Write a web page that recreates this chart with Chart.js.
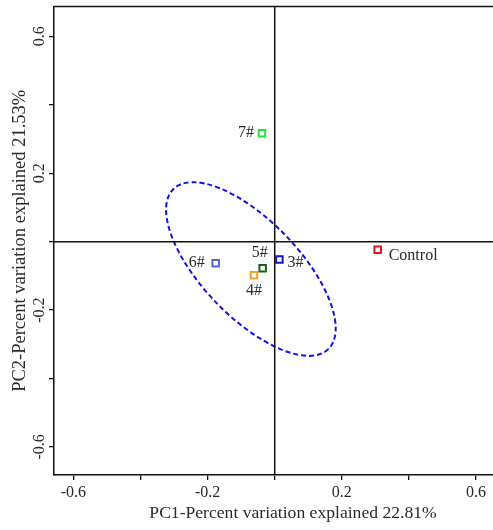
<!DOCTYPE html>
<html><head><meta charset="utf-8">
<script src="https://cdn.jsdelivr.net/npm/chart.js@4.4.1/dist/chart.umd.min.js"></script>
<style>
html,body{margin:0;padding:0;background:#fff;overflow:hidden;}
#wrap{width:493px;height:530px;overflow:hidden;position:relative;}
canvas{display:block;}
</style></head><body>
<div id="wrap"><canvas id="c" width="540" height="530"></canvas></div>
<script>
// ---- data ----
const sampleNames = ['Control', '3#', '4#', '5#', '6#', '7#'];
const pc1Values = [0.307, 0.014, -0.062, -0.036, -0.176, -0.038];
const pc2Values = [-0.024, -0.052, -0.098, -0.078, -0.063, 0.317];
const xTickValues = [-0.6, -0.4, -0.2, 0, 0.2, 0.4, 0.6];
const xTickLabels = ['-0.6', '', '-0.2', '', '0.2', '', '0.6'];
const yTickValues = [-0.6, -0.4, -0.2, 0, 0.2, 0.4, 0.6];
const yTickLabels = ['-0.6', '', '-0.2', '', '0.2', '', '0.6'];
const ellipseCenter = [-0.071, -0.080];
const ellipseSemiAxes = [0.332, 0.144];
const ellipseAngleDeg = -46;
const xTitle = 'PC1-Percent variation explained 22.81%';
const yTitle = 'PC2-Percent variation explained 21.53%';

// ---- styles ----
const pointColors = ['#dd1a1a', '#1414c8', '#f0a028', '#146414', '#4a6cd0', '#33dd33'];
const labelPlacement = [
  {dx: 11, dy: 6, align: 'left'},
  {dx: 8, dy: 3, align: 'left'},
  {dx: 0, dy: 16, align: 'center'},
  {dx: -3, dy: -16, align: 'center'},
  {dx: -11, dy: 0, align: 'right'},
  {dx: -8, dy: 0, align: 'right'}
];
const serif = "'Liberation Serif', 'DejaVu Serif', serif";
const textColor = '#2a2a2a';

const decor = {
  id: 'decor',
  beforeDatasetsDraw(chart) {
    const {ctx, chartArea: a, scales: {x, y}} = chart;
    ctx.save();
    const cx = x.getPixelForValue(ellipseCenter[0]);
    const cy = y.getPixelForValue(ellipseCenter[1]);
    const rx = Math.abs(x.getPixelForValue(ellipseCenter[0] + ellipseSemiAxes[0]) - cx);
    const ry = Math.abs(x.getPixelForValue(ellipseCenter[0] + ellipseSemiAxes[1]) - cx);
    ctx.strokeStyle = '#1010e8';
    ctx.lineWidth = 2;
    ctx.setLineDash([5, 3]);
    ctx.beginPath();
    ctx.ellipse(cx, cy, rx, ry, -ellipseAngleDeg * Math.PI / 180, 0, Math.PI * 2);
    ctx.stroke();
    ctx.setLineDash([]);
    ctx.strokeStyle = '#111';
    ctx.lineWidth = 1.5;
    const x0 = x.getPixelForValue(0), y0 = y.getPixelForValue(0);
    ctx.beginPath();
    ctx.moveTo(x0, a.top); ctx.lineTo(x0, a.bottom);
    ctx.moveTo(a.left, y0); ctx.lineTo(a.right, y0);
    ctx.moveTo(a.left, a.top); ctx.lineTo(a.right, a.top);
    ctx.stroke();
    ctx.restore();
  },
  afterDatasetsDraw(chart) {
    const {ctx, scales: {x, y}} = chart;
    ctx.save();
    ctx.fillStyle = textColor;
    ctx.font = '16px ' + serif;
    ctx.textBaseline = 'middle';
    sampleNames.forEach((n, i) => {
      const p = labelPlacement[i];
      ctx.textAlign = p.align;
      ctx.fillText(n, x.getPixelForValue(pc1Values[i]) + p.dx, y.getPixelForValue(pc2Values[i]) + p.dy);
    });
    ctx.textAlign = 'center';
    yTickValues.forEach((v, i) => {
      if (!yTickLabels[i]) return;
      const py = y.getPixelForValue(v);
      ctx.save();
      ctx.translate(40, py);
      ctx.rotate(-Math.PI / 2);
      ctx.fillText(yTickLabels[i], 0, 0);
      ctx.restore();
    });
    ctx.restore();
  }
};

new Chart(document.getElementById('c'), {
  type: 'scatter',
  data: {
    datasets: [{
      data: pc1Values.map((v, i) => ({x: v, y: pc2Values[i]})),
      pointStyle: 'rect',
      pointRadius: 4.6,
      pointBorderWidth: 2,
      pointBorderColor: pointColors,
      pointBackgroundColor: 'rgba(255,255,255,0)'
    }]
  },
  options: {
    responsive: false,
    devicePixelRatio: 1,
    animation: false,
    layout: {padding: {top: 5, right: 8, left: 0, bottom: 0}},
    plugins: {legend: {display: false}, tooltip: {enabled: false}},
    scales: {
      x: {
        type: 'linear', min: -0.658, max: 0.767,
        afterBuildTicks: s => { s.ticks = xTickValues.map(v => ({value: v})); },
        afterFit: s => { s.height = 55; },
        ticks: {
          autoSkip: false, maxRotation: 0, padding: 3, color: textColor,
          font: {family: serif, size: 16},
          callback: (v, i) => xTickLabels[i]
        },
        grid: {drawOnChartArea: false, drawTicks: true, tickLength: 5, color: '#111', lineWidth: 1.3},
        border: {display: true, color: '#111', width: 1.5},
        title: {display: true, text: xTitle, color: textColor, font: {family: serif, size: 17.6}, padding: {top: 0, bottom: 6}}
      },
      y: {
        type: 'linear', min: -0.682, max: 0.687,
        afterBuildTicks: s => { s.ticks = yTickValues.map(v => ({value: v})); },
        afterFit: s => { s.width = 54; },
        ticks: {display: false},
        grid: {drawOnChartArea: false, drawTicks: true, tickLength: 5, color: '#111', lineWidth: 1.3},
        border: {display: true, color: '#111', width: 1.5},
        title: {display: true, text: yTitle, color: textColor, font: {family: serif, size: 18.5}, padding: {top: 9, bottom: 0}}
      }
    }
  },
  plugins: [decor]
});
</script>
</body></html>
